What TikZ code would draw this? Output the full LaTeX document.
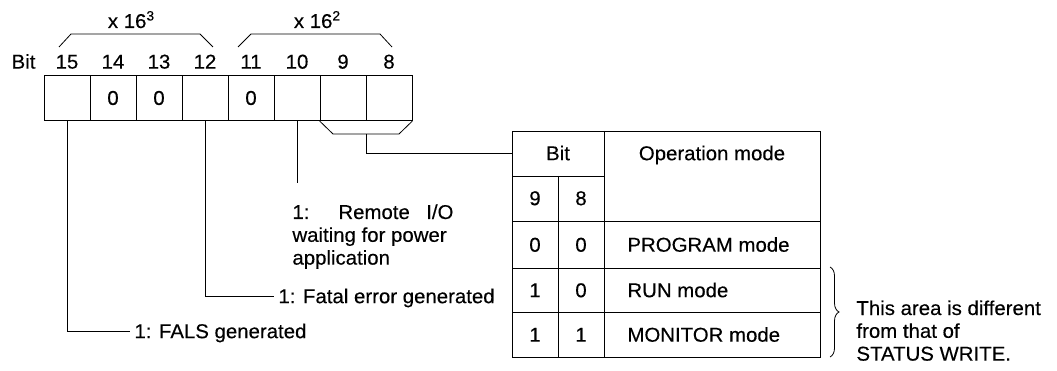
\documentclass[tikz,border=0pt]{standalone}
\usepackage{fontspec}
\setmainfont{Liberation Sans}[FakeStretch=1.02, FakeBold=0.3]
\usetikzlibrary{decorations.pathreplacing}
\newcommand{\supnum}[1]{\raisebox{7.5pt}{\fontsize{13.5}{13.5}\selectfont #1}}
\begin{document}
\begin{tikzpicture}[x=1pt,y=-1pt,
  font=\fontsize{20}{22.8}\selectfont,
  line width=0.9pt,
  cell/.style={draw, minimum width=46pt, minimum height=45pt, inner sep=0pt},
  txt/.style={inner sep=0pt, anchor=base},
  txtl/.style={inner sep=0pt, anchor=base west},
  lead/.style={inner xsep=4pt, inner ysep=0pt, anchor=west, text height=14.3pt, text depth=0pt},
  bracketline/.style={line width=0.8pt}]
\useasboundingbox (0,0) rectangle (1057,371);

% bit cells and bit numbers
\node[txt] (bitlbl) at (23.5,68.6) {Bit};
\foreach \b/\t [count=\i from 0] in {15/,14/0,13/0,12/,11/0,10/,9/,8/}{
  \node[cell] (c\b) at (67+46*\i,98) {\t};
  \node[txt] (n\b) at (67+46*\i,68.6) {\b};
}

% multipliers
\node[txt] (m3) at (131,28) {x 16\supnum{3}};
\node[txt] (m2) at (317,28) {x 16\supnum{2}};
\draw[bracketline] (59,47) -- (71,34) -- (200,34) -- (213,47);
\draw[bracketline] (238,47) -- (251,34) -- (380,34) -- (392,47);

% bracket under bits 9 and 8
\draw[bracketline] (c9.south west) -- (333,134) -- (399,134) -- (c8.south east);
\coordinate (brk) at (366,134);

% labels
\node[lead] (fals) at (130,331) {1: FALS generated};
\node[lead] (fatal) at (274,296) {1: Fatal error generated};
\node[txtl] (rem) at (292,219) {\parbox[t]{175pt}{\makebox[161pt][s]{1: Remote I/O}\\waiting for power\\application}};
\coordinate (remtop) at (297,183);

\draw (c15.south) |- (fals.west);
\draw (c12.south) |- (fatal.west);
\draw (c10.south) -- (remtop);

% table
\node[draw, minimum width=308pt, minimum height=226pt, inner sep=0pt] (tbl) at (666,244) {};
\draw (512,176) -- (604,176);
\draw (558,176) -- (558,357);
\draw (604,131) -- (604,357);
\draw (512,221) -- (820,221);
\draw (512,268) -- (820,268);
\draw (512,312) -- (820,312);

\draw (brk) |- (tbl.west |- 0,153);

\node[txt] (tb) at (558,160.2) {Bit};
\node[txt] (top) at (712,160.2) {Operation mode};
\node[txt] (t9) at (535,205.2) {9};
\node[txt] (t8) at (581,205.2) {8};
\node[txt] (a1) at (535,251.7) {0};
\node[txt] (a2) at (581,251.7) {0};
\node[txtl] (a3) at (627,251.7) {PROGRAM mode};
\node[txt] (b1) at (535,297.2) {1};
\node[txt] (b2) at (581,297.2) {0};
\node[txtl] (b3) at (627,297.2) {RUN mode};
\node[txt] (d1) at (535,341.7) {1};
\node[txt] (d2) at (581,341.7) {1};
\node[txtl] (d3) at (627,341.7) {MONITOR mode};

% brace and note
\draw[line width=0.8pt, decorate, decoration={brace, amplitude=9pt}] (830,267) -- (830,357);
\node[txtl] (note) at (856,315) {\parbox[t]{200pt}{This area is different\\from that of\\STATUS WRITE.}};
\end{tikzpicture}
\end{document}
